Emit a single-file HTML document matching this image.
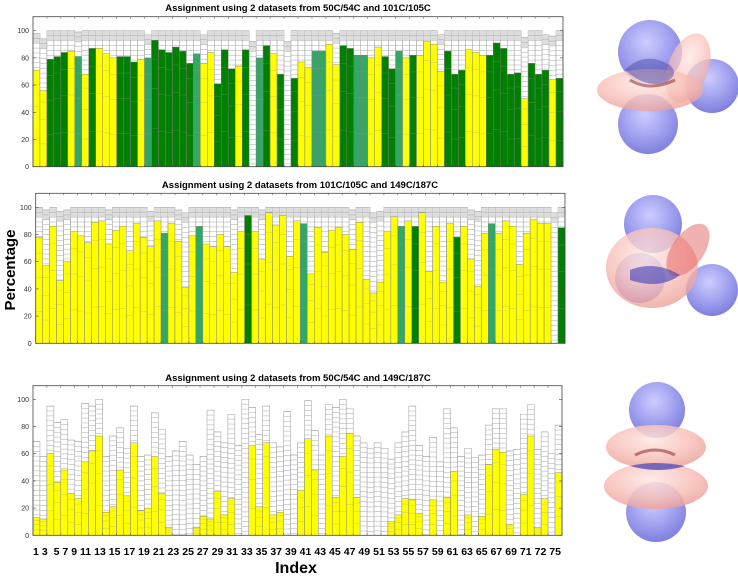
<!DOCTYPE html>
<html><head><meta charset="utf-8"><style>
body{margin:0;background:#fff;}
svg{display:block;font-family:"Liberation Sans",sans-serif;}
</style></head><body>
<svg id="s" width="738" height="577" viewBox="0 0 738 577" xmlns="http://www.w3.org/2000/svg">
<defs>
<radialGradient id="gb" cx="0.45" cy="0.35" r="0.7"><stop offset="0" stop-color="#c8c8ff"/><stop offset="0.5" stop-color="#9a9af0"/><stop offset="1" stop-color="#6b6bd8"/></radialGradient>
<radialGradient id="gr" cx="0.45" cy="0.35" r="0.75"><stop offset="0" stop-color="#ffe6e2"/><stop offset="0.55" stop-color="#f7b8b0"/><stop offset="1" stop-color="#e48a82"/></radialGradient>
</defs>
<text x="298" y="11" font-size="9.5" font-weight="bold" text-anchor="middle">Assignment using 2 datasets from 50C/54C and 101C/105C</text>
<text x="300" y="188" font-size="9.5" font-weight="bold" text-anchor="middle">Assignment using 2 datasets from 101C/105C and 149C/187C</text>
<text x="298" y="381" font-size="9.5" font-weight="bold" text-anchor="middle">Assignment using 2 datasets from 50C/54C and 149C/187C</text>
<text transform="translate(15,270) rotate(-90)" font-size="15" font-weight="bold" text-anchor="middle">Percentage</text>
<text x="296" y="573" font-size="16" font-weight="bold" text-anchor="middle">Index</text>
<text x="33" y="555" font-size="10.5" font-weight="bold" textLength="528" lengthAdjust="spacing" style="white-space:pre" xml:space="preserve">1 3  5 7 9 11 13 15 17 19 21 23 25 27 29 31 33 35 37 39 41 43 45 47 49 51 53 55 57 59 61 63 65 67 69 71 72 75</text>
<g id="charts"></g>
<g opacity="0.9">
<circle cx="650" cy="52" r="32" fill="url(#gb)"/>
<circle cx="712" cy="86" r="27" fill="url(#gb)"/>
<circle cx="648" cy="124" r="30" fill="url(#gb)"/>
<ellipse cx="688" cy="68" rx="20" ry="36" transform="rotate(20 688 68)" fill="url(#gr)" opacity="0.75"/>
<ellipse cx="650" cy="90" rx="53" ry="21" fill="url(#gr)" opacity="0.8"/>
<path d="M625 70 q20 -20 45 -5 q10 10 -5 18 q-20 5 -40 -13" fill="#3a3aa0" opacity="0.5"/>
<path d="M630 80 q20 12 45 0" stroke="#8a2020" fill="none" stroke-width="3" opacity="0.6"/>
</g>
<g opacity="0.9">
<circle cx="653" cy="224" r="29" fill="url(#gb)"/>
<circle cx="712" cy="290" r="26" fill="url(#gb)"/>
<circle cx="640" cy="278" r="25" fill="url(#gb)"/>
<ellipse cx="652" cy="268" rx="46" ry="40" fill="url(#gr)" opacity="0.8"/>
<ellipse cx="688" cy="250" rx="16" ry="30" transform="rotate(35 688 250)" fill="#e04040" opacity="0.45"/>
<path d="M630 270 q25 -10 50 5 q-20 15 -50 5" fill="#2a2ab0" opacity="0.6"/>
</g>
<g opacity="0.9">
<circle cx="657" cy="410" r="28" fill="url(#gb)"/>
<circle cx="656" cy="512" r="30" fill="url(#gb)"/>
<ellipse cx="656" cy="447" rx="50" ry="22" fill="url(#gr)" opacity="0.85"/>
<ellipse cx="656" cy="486" rx="52" ry="23" fill="url(#gr)" opacity="0.85"/>
<path d="M630 466 q25 -6 55 0 q-25 8 -55 0" fill="#2a2ab0" opacity="0.7"/>
<path d="M635 455 q20 -10 40 0" stroke="#8a2020" fill="none" stroke-width="3" opacity="0.6"/>
</g>
</svg>
<script>
const topValues=[71,56,79,81,84,85,81,68,87,87,83,80,81,81,77,79,80,93,86,84,88,85,76,83,76,84,61,86,72,74,86,0,80,89,83,68,0,65,77,73,85,85,90,75,89,87,82,82,80,88,81,72,85,80,82,82,92,90,70,85,68,71,86,84,82,82,91,87,68,69,50,76,68,71,64,65];
const topColors="yygggymygy"+"yygggymggg"+"gggmyygggy"+"gwmgygwgyy"+"mmyyggmmyy"+"ggmygyyyyg"+"ggyyyggggg"+"ygggyg";
const topTotals=[98,94,100,100,100,100,99,100,100,100,100,100,100,100,100,100,97,100,100,100,100,100,100,100,97,100,100,100,100,100,100,92,100,100,100,100,92,100,100,100,100,100,100,98,100,100,100,100,100,100,100,100,100,100,100,100,100,100,97,100,100,100,100,100,100,100,100,100,100,100,95,100,100,97,96,100];
const midValues=[78,57,86,46,60,82,79,74,89,90,73,83,86,68,88,78,71,90,81,88,75,41,79,86,73,71,80,71,52,82,94,82,62,96,87,94,64,90,88,51,85,67,83,85,80,69,89,47,37,45,82,93,86,90,86,96,53,86,45,88,78,86,62,42,81,88,81,90,86,58,81,91,88,88,0,85];
const midColors="yyyyyyyyyy"+"yyyyyyyymy"+"yyymyyyyyy"+"gyyyyyyymy"+"yyyyyyyyyy"+"yymygyyyyy"+"gyyyymyyyy"+"yyyywg";
const midTotals=[100,98,100,97,98,100,100,100,100,100,98,100,100,100,100,100,97,100,100,100,98,96,100,100,100,100,100,100,98,100,100,100,98,100,100,100,100,100,100,100,100,100,100,100,100,98,100,100,96,97,100,100,100,100,100,100,100,100,100,100,100,100,98,97,100,100,100,100,100,100,100,100,100,100,96,100];
const botValues=[13,12,60,39,48,31,27,54,62,73,17,21,48,29,68,18,20,58,31,6,0,0,0,6,14,12,32,15,27,0,0,66,21,68,15,17,0,0,33,71,48,0,73,28,58,75,28,0,0,0,0,10,15,27,26,16,0,26,0,28,47,0,15,0,14,52,63,61,8,0,30,73,6,27,0,46];
const botTotals=[69,58,95,83,85,70,69,97,95,100,58,73,79,64,95,58,59,90,78,58,62,69,59,52,58,92,76,68,89,66,100,94,74,95,68,65,91,59,68,99,77,59,96,94,100,93,73,68,64,68,64,56,68,76,95,66,58,72,54,93,79,58,64,57,59,81,93,93,62,63,89,96,63,76,60,81];
const botColors="y".repeat(76);
const yTicks=[0,20,40,60,80,100];
const NS="http://www.w3.org/2000/svg";
const root=document.getElementById('charts');
const colorMap={y:'#ffff00',g:'#007f00',m:'#33a866',w:'none'};
function mk(tag,attrs,parent){const e=document.createElementNS(NS,tag);for(const k in attrs)e.setAttribute(k,attrs[k]);parent.appendChild(e);return e;}
function drawChart(name,L,R,y0,y100,top,vals,tots,cols,shade){
  const g=mk('g',{},root);
  
  
  const n=vals.length,bw=(R-L)/n;
  const ys=v=>y0-(y0-y100)*v/100;
  const xs=i=>L+i*bw;
  for(let i=0;i<n;i++){
    const x=xs(i),tv=tots[i],v=vals[i],c=cols[i]||'y';
    const outline=mk('rect',{x:x,y:ys(tv),width:bw,height:y0-ys(tv),fill:'#fff',stroke:'#999','stroke-width':0.5},g);
    
    
    if(shade){const s0=Math.max(v,tv-7);if(s0<tv){mk('rect',{x:x,y:ys(tv),width:bw,height:ys(s0)-ys(tv),fill:'#ddd',stroke:'none'},g);}}
    for(let t=tv;t>v;t-=3.6){mk('line',{x1:x,x2:x+bw,y1:ys(t),y2:ys(t),stroke:'#aaa','stroke-width':0.5},g);}
    if(v>0&&c!=='w'){
      const r=mk('rect',{x:x,y:ys(v),width:bw,height:y0-ys(v),fill:colorMap[c],stroke:'#777','stroke-width':0.4},g);
      
      
      for(const f of [0.3,0.62,0.85]){mk('line',{x1:x,x2:x+bw,y1:ys(v*f),y2:ys(v*f),stroke:'#999','stroke-width':0.4,opacity:0.6},g);}
    }
  }
  const frame=mk('rect',{x:L,y:top,width:R-L,height:y0-top,fill:'none',stroke:'#444','stroke-width':0.8},g);
  
  
  for(const t of yTicks){
    const lab=mk('text',{x:L-4,y:ys(t)+2.5,'font-size':7,'text-anchor':'end',fill:'#333'},g);
    
    
    lab.textContent=t;
    mk('line',{x1:L,x2:L+3,y1:ys(t),y2:ys(t),stroke:'#444','stroke-width':0.6},g);
    mk('line',{x1:R,x2:R-3,y1:ys(t),y2:ys(t),stroke:'#444','stroke-width':0.6},g);
  }
  for(let i=0;i<=n;i+=2){mk('line',{x1:xs(i),x2:xs(i),y1:top,y2:top+2,stroke:'#444','stroke-width':0.5},g);mk('line',{x1:xs(i),x2:xs(i),y1:y0,y2:y0-2,stroke:'#444','stroke-width':0.5},g);}
}
drawChart('chart-top',33,563,166.7,30.7,16.7,topValues,topTotals,topColors,true);
drawChart('chart-middle',35.7,565,343.3,207.3,193.3,midValues,midTotals,midColors,true);
drawChart('chart-bottom',33,562,535.3,399.3,385.7,botValues,botTotals,botColors,false);
</script>
</body></html>
